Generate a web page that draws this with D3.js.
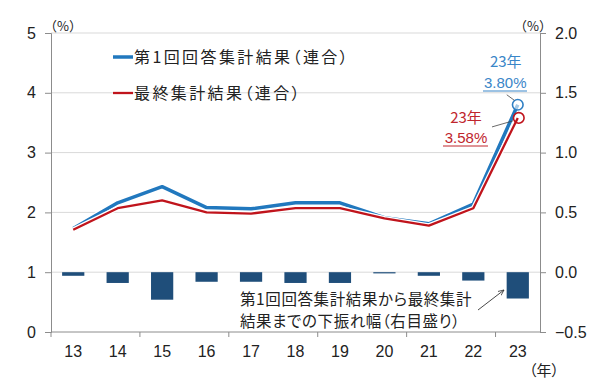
<!DOCTYPE html>
<html><head><meta charset="utf-8">
<script src="https://cdn.jsdelivr.net/npm/d3@7"></script>
<style>
html,body{margin:0;padding:0;background:#fff;}
svg text{font-family:"Liberation Sans","Noto Sans CJK JP",sans-serif;fill:#222;}
.jp{font-family:"Noto Sans CJK JP",sans-serif;font-feature-settings:"palt";}
.jn{font-family:"Noto Sans CJK JP",sans-serif;}
</style></head>
<body><svg id="c" width="600" height="385"></svg>
<script>
const years = ["13","14","15","16","17","18","19","20","21","22","23"];
const firstRound = [1.73, 2.16, 2.43, 2.08, 2.06, 2.16, 2.16, 1.91, 1.81, 2.14, 3.80];
const finalRound = [1.71, 2.07, 2.20, 2.00, 1.98, 2.07, 2.07, 1.90, 1.78, 2.07, 3.58];
const downside = [-0.03, -0.09, -0.23, -0.08, -0.08, -0.09, -0.09, -0.01, -0.03, -0.07, -0.22];
const leftTicks = [0, 1, 2, 3, 4, 5];
const rightTicks = [-0.5, 0.0, 0.5, 1.0, 1.5, 2.0];
const legendLabels = ["第1回回答集計結果（連合）", "最終集計結果（連合）"];
const barNote = ["第1回回答集計結果から最終集計", "結果までの下振れ幅（右目盛り）"];

const BLUE = "#2178be", RED = "#c0141c", BAR = "#1f4e7a", GRID = "#d9d9d9", AX = "#8c8c8c";
const L = 51, R = 540, T = 33, B = 332;

const svg = d3.select("#c");
const x = d3.scaleBand().domain(years).range([L, R]);
const yL = d3.scaleLinear().domain([0, 5]).range([B, T]);
const yR = d3.scaleLinear().domain([-0.5, 2.0]).range([B, T]);
const cx = d => x(d) + x.bandwidth() / 2;

// gridlines
svg.append("g").selectAll("line").data(leftTicks.filter(d => d > 0)).join("line")
  .attr("x1", L).attr("x2", R).attr("y1", d => yL(d)).attr("y2", d => yL(d))
  .attr("stroke", GRID).attr("stroke-width", 1);

// bars
const bw = x.bandwidth() * 0.5;
svg.append("g").selectAll("rect").data(downside).join("rect")
  .attr("x", (d, i) => cx(years[i]) - bw / 2)
  .attr("width", bw)
  .attr("y", yR(0))
  .attr("height", d => yR(d) - yR(0))
  .attr("fill", BAR);

// axes
const gL = svg.append("g").attr("transform", `translate(${L},0)`)
  .call(d3.axisLeft(yL).tickValues(leftTicks).tickSize(6).tickPadding(9).tickFormat(d3.format("d")));
const gR = svg.append("g").attr("transform", `translate(${R},0)`)
  .call(d3.axisRight(yR).tickValues(rightTicks).tickSize(6).tickPadding(9).tickFormat(d3.format(".1f")));
const gB = svg.append("g").attr("transform", `translate(0,${B})`)
  .call(d3.axisBottom(x).tickSize(0).tickPadding(14));
[gL, gR, gB].forEach(g => {
  g.select(".domain").attr("stroke", AX);
  g.selectAll(".tick line").attr("stroke", AX);
  g.selectAll(".tick text").attr("font-size", 16).attr("fill", "#222")
    .attr("font-family", "Liberation Sans, sans-serif");
});
gB.select(".domain").attr("d", `M${L},0H${R}`);
gB.selectAll(".tick text").attr("dy", "0.71em");
// bottom tick marks at every other category boundary
const bounds = d3.range(0, years.length + 1, 2).map(i => L + i * x.step()).filter(v => v <= R + 0.5);
svg.append("g").selectAll("line").data(bounds).join("line")
  .attr("x1", d => d).attr("x2", d => d).attr("y1", B).attr("y2", B + 5)
  .attr("stroke", AX);

// unit labels
svg.append("text").attr("class", "jn").attr("x", 44).attr("y", 31).attr("font-size", 13).text("（%）");
svg.append("text").attr("class", "jn").attr("x", 552).attr("y", 31).attr("text-anchor", "end").attr("font-size", 13).text("（%）");
svg.append("text").attr("class", "jp").attr("x", 559).attr("y", 376).attr("text-anchor", "end").attr("font-size", 15).text("（年）");

// lines
const line = d3.line().x((d, i) => cx(years[i])).y(d => yL(d));
function drawLine(data, color, w) {
  svg.append("path").datum(data).attr("d", line).attr("fill", "none")
    .attr("stroke", "#fff").attr("stroke-width", w + 2.5).attr("stroke-linejoin", "round");
  svg.append("path").datum(data).attr("d", line).attr("fill", "none")
    .attr("stroke", color).attr("stroke-width", w).attr("stroke-linejoin", "round");
}
drawLine(firstRound, BLUE, 3.5);
drawLine(finalRound, RED, 2.3);

// end circles
const last = years.length - 1;
const bx = cx(years[last]), byB = yL(firstRound[last]), byR = yL(finalRound[last]);
svg.append("circle").attr("cx", bx).attr("cy", byB).attr("r", 5.3)
  .attr("fill", "#fff").attr("fill-opacity", 0.6).attr("stroke", "#2f7fc4").attr("stroke-width", 1.6);
svg.append("circle").attr("cx", bx + 1).attr("cy", byR).attr("r", 5.3)
  .attr("fill", "none").attr("stroke", RED).attr("stroke-width", 1.6);

// annotations
const BLT = "#3a86c8", RDT = "#c0262d";
svg.append("text").attr("class", "jp").attr("x", bx - 12).attr("y", 67).attr("text-anchor", "middle")
  .attr("font-size", 15).style("fill", BLT).text(years[last] + "年");
svg.append("text").attr("x", bx - 12.5).attr("y", 87.5).attr("text-anchor", "middle")
  .attr("font-size", 15).style("fill", BLT).text(firstRound[last].toFixed(2) + "%");
svg.append("line").attr("x1", 483).attr("x2", 527).attr("y1", 91).attr("y2", 91).attr("stroke", BLT).attr("stroke-width", 1);
svg.append("line").attr("x1", bx - 11).attr("y1", byB - 10).attr("x2", bx - 3.5).attr("y2", byB - 4.5)
  .attr("stroke", "#444").attr("stroke-width", 0.8);

svg.append("text").attr("class", "jp").attr("x", 466).attr("y", 123).attr("text-anchor", "middle")
  .attr("font-size", 15).style("fill", RDT).text(years[last] + "年");
svg.append("text").attr("x", 466).attr("y", 143).attr("text-anchor", "middle")
  .attr("font-size", 15).style("fill", RDT).text(finalRound[last].toFixed(2) + "%");
svg.append("line").attr("x1", 443).attr("x2", 488).attr("y1", 146).attr("y2", 146).attr("stroke", RDT).attr("stroke-width", 1);
svg.append("line").attr("x1", 492).attr("y1", byR + 9).attr("x2", bx - 5).attr("y2", byR + 3)
  .attr("stroke", "#444").attr("stroke-width", 0.8);

// legend
legendLabels.forEach((t, i) => {
  const y = 57 + i * 36;
  svg.append("line").attr("x1", 113).attr("x2", 133).attr("y1", y).attr("y2", y)
    .attr("stroke", i === 0 ? BLUE : RED).attr("stroke-width", i === 0 ? 3.5 : 2.3);
  svg.append("text").attr("class", "jp").attr("x", 134).attr("y", y + 6)
    .attr("font-size", 16).attr("letter-spacing", 2.4).text(t);
});

// bar note
barNote.forEach((t, i) => {
  svg.append("text").attr("class", "jp").attr("x", 240).attr("y", 305 + i * 22)
    .attr("font-size", 15.5).attr("letter-spacing", 0.6).text(t);
});
// arrow
svg.append("defs").append("marker").attr("id", "ah").attr("viewBox", "0 0 10 10")
  .attr("refX", 9).attr("refY", 5).attr("markerWidth", 7).attr("markerHeight", 7).attr("orient", "auto")
  .append("path").attr("d", "M0,1L9,5L0,9").attr("fill", "none").attr("stroke", "#333").attr("stroke-width", 1.2);
svg.append("line").attr("x1", 478).attr("y1", 310).attr("x2", 504).attr("y2", 290)
  .attr("stroke", "#333").attr("stroke-width", 0.9).attr("marker-end", "url(#ah)");
</script></body></html>
